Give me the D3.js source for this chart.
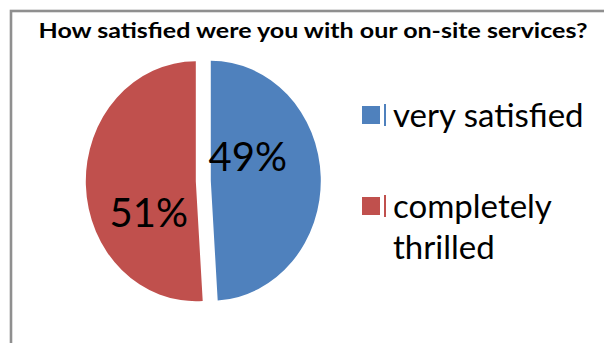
<!DOCTYPE html>
<html>
<head>
<meta charset="utf-8">
<script src="https://cdn.jsdelivr.net/npm/d3@7"></script>
<style>
  html, body { margin: 0; padding: 0; background: #fff; }
  svg { display: block; font-family: Lato, 'Open Sans', sans-serif; }
</style>
</head>
<body>
<svg width="604" height="343"></svg>
<script>
const title = 'How satisfied were you with our on-site services?';
const categories = ['very satisfied', 'completely thrilled'];
const values = [49, 51];
const colors = ['#4F81BD', '#C0504D'];
const legendLines = [['very satisfied'], ['completely', 'thrilled']];

const createChart = () => {
  const width = 604;
  const height = 343;
  const cx = 203.3;
  const cy = 181;
  const ry = 120;
  const sx = 110 / 120;
  const explode = 7.5;

  const svg = d3.select('svg')
    .attr('viewBox', [0, 0, width, height]);

  // outer frame, runs off the right and bottom edges
  svg.append('rect')
    .attr('x', 11)
    .attr('y', 11)
    .attr('width', width + 20)
    .attr('height', height + 20)
    .attr('fill', 'none')
    .attr('stroke', '#8f8f8f')
    .attr('stroke-width', 2.6);

  svg.append('text')
    .attr('x', 313)
    .attr('y', 38)
    .attr('text-anchor', 'middle')
    .attr('font-weight', 'bold')
    .attr('font-size', 20.5)
    .attr('textLength', 549)
    .attr('lengthAdjust', 'spacingAndGlyphs')
    .text(title);

  const pie = d3.pie().sort(null).value(d => d)(values);
  const arc = d3.arc().innerRadius(0).outerRadius(ry);

  const pieG = svg.append('g')
    .attr('transform', `translate(${cx},${cy}) scale(${sx},1)`);

  pieG.selectAll('path')
    .data(pie)
    .join('path')
    .attr('transform', d => {
      const a = (d.startAngle + d.endAngle) / 2;
      return `translate(${Math.sin(a) * explode / sx},${-Math.cos(a) * explode})`;
    })
    .attr('d', arc)
    .attr('fill', (d, i) => colors[i]);

  // percent labels, nudged the way the original placed them
  const labelArc = d3.arc().innerRadius(0).outerRadius(ry * 0.9);
  const nudge = [[-5, -23], [-5, 30]];
  const total = d3.sum(values);

  svg.append('g')
    .selectAll('text')
    .data(pie)
    .join('text')
    .attr('x', (d, i) => cx + labelArc.centroid(d)[0] * sx + nudge[i][0])
    .attr('y', (d, i) => cy + labelArc.centroid(d)[1] + nudge[i][1])
    .attr('text-anchor', 'middle')
    .attr('dy', '0.36em')
    .attr('font-size', 40)
    .attr('fill', '#000')
    .text(d => `${Math.round(d.value / total * 100)}%`);

  // legend
  const legendY = d3.scalePoint()
    .domain(categories)
    .range([115, 206]);

  const legend = svg.append('g')
    .selectAll('g')
    .data(categories)
    .join('g')
    .attr('transform', d => `translate(362,${legendY(d)})`);

  legend.append('rect')
    .attr('x', 0)
    .attr('y', -9)
    .attr('width', 18)
    .attr('height', 18)
    .attr('fill', (d, i) => colors[i]);

  legend.append('rect')
    .attr('x', 22)
    .attr('y', -11)
    .attr('width', 2)
    .attr('height', 22)
    .attr('fill', (d, i) => colors[i]);

  legend.append('text')
    .attr('x', 31)
    .attr('font-size', 33)
    .attr('fill', '#000')
    .selectAll('tspan')
    .data((d, i) => legendLines[i])
    .join('tspan')
    .attr('x', 31)
    .attr('y', (d, i) => 12 + i * 41)
    .text(d => d);
};

window.addEventListener('DOMContentLoaded', () => {
  createChart();
});
</script>
</body>
</html>
